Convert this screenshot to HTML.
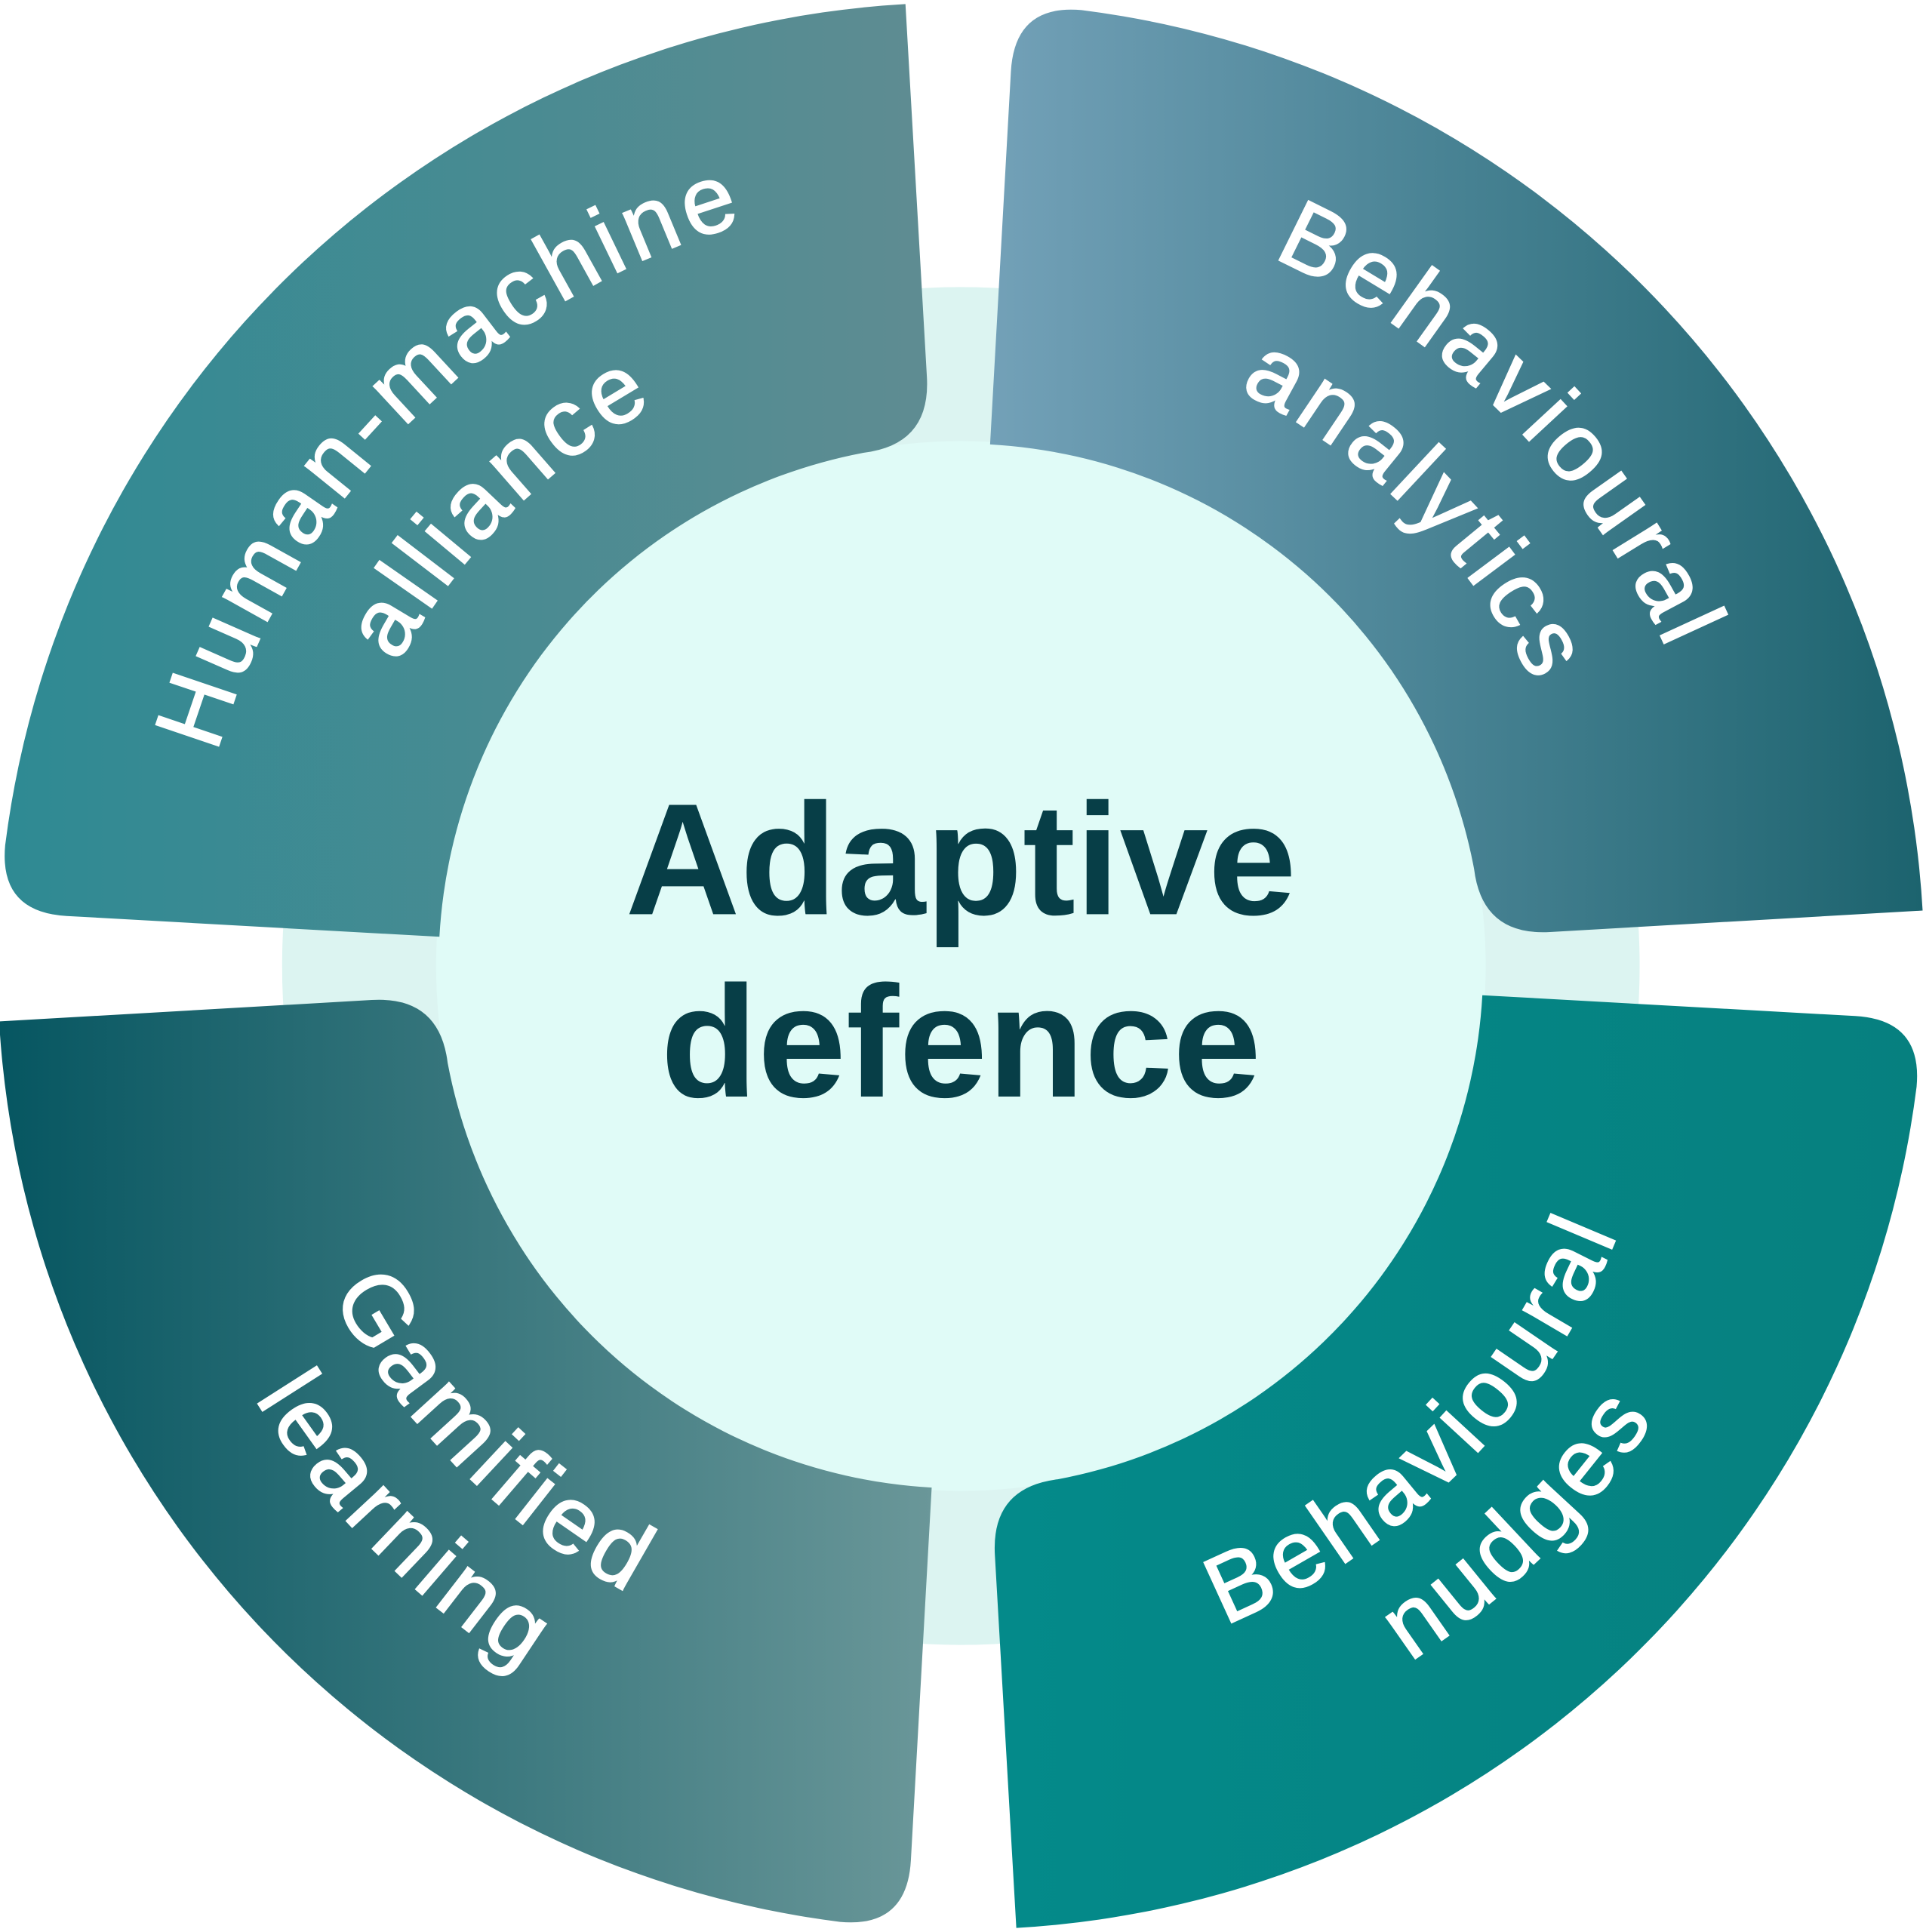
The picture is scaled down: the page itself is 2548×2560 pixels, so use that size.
<!DOCTYPE html>
<html><head><meta charset="utf-8"><style>
html,body{margin:0;padding:0;background:#fff;}
svg{display:block;}
.lbl{font-family:"Liberation Sans",sans-serif;font-size:78px;fill:#fff;stroke:#fff;stroke-width:1.2px;letter-spacing:5px;}
.ctr{font-family:"Liberation Sans",sans-serif;font-weight:bold;font-size:129px;fill:#073e47;}
</style></head><body>
<svg width="2548" height="2560" viewBox="0 0 1561 1568" preserveAspectRatio="none" xmlns="http://www.w3.org/2000/svg">
<defs>
<linearGradient id="gTL" gradientUnits="userSpaceOnUse" x1="0" y1="0" x2="755" y2="0"><stop offset="0" stop-color="#2e8a93"/><stop offset="1" stop-color="#5f8c92"/></linearGradient>
<linearGradient id="gTR" gradientUnits="userSpaceOnUse" x1="803" y1="0" x2="1561" y2="0"><stop offset="0" stop-color="#73a1b8"/><stop offset="1" stop-color="#1c636e"/></linearGradient>
<linearGradient id="gBR" gradientUnits="userSpaceOnUse" x1="804" y1="0" x2="1561" y2="0"><stop offset="0" stop-color="#048a8a"/><stop offset="1" stop-color="#06807f"/></linearGradient>
<linearGradient id="gBL" gradientUnits="userSpaceOnUse" x1="0" y1="0" x2="757" y2="0"><stop offset="0" stop-color="#065661"/><stop offset="1" stop-color="#6a9799"/></linearGradient>
<path id="t1" d="M335.9,1228.1 A628 628 0 0 1 1224.1,339.9"/>
<path id="t2" d="M408.1,1155.9 A526 526 0 0 1 1151.9,412.1"/>
<path id="r1" d="M335.9,339.9 A628 628 0 0 1 1224.1,1228.1"/>
<path id="r2" d="M408.1,412.1 A526 526 0 0 1 1151.9,1155.9"/>
<path id="b1" d="M372.7,1191.3 A576 576 0 0 0 1187.3,376.7"/>
<path id="b2" d="M299.9,1264.1 A679 679 0 0 0 1260.1,303.9"/>
<path id="l1" d="M372.7,376.7 A576 576 0 0 0 1187.3,1191.3"/>
<path id="l2" d="M299.9,303.9 A679 679 0 0 0 1260.1,1264.1"/>
</defs>
<circle cx="780" cy="784" r="551" fill="#dcf4f1"/>
<circle cx="780" cy="784" r="426" fill="#e0fbf7"/>
<path fill="url(#gTL)" d="M735,3.3 A782,782 0 0 0 4.2,686 Q-0.8,740.3 54.1,743.4 L356.7,760.3 A424,424 0 0 1 701.3,367.4 Q755.6,360.7 752.4,305.8 Z"/>
<path fill="url(#gTR)" d="M1560.7,739 A782,782 0 0 0 878,8.2 Q823.7,3.2 820.6,58.1 L803.7,360.7 A424,424 0 0 1 1196.6,705.3 Q1203.3,759.6 1258.2,756.4 Z"/>
<path fill="url(#gBR)" d="M825,1564.7 A782,782 0 0 0 1555.8,882 Q1560.8,827.7 1505.9,824.6 L1203.3,807.7 A424,424 0 0 1 858.7,1200.6 Q804.4,1207.3 807.6,1262.2 Z"/>
<path fill="url(#gBL)" d="M-0.7,829 A782,782 0 0 0 682,1559.8 Q736.3,1564.8 739.4,1509.9 L756.3,1207.3 A424,424 0 0 1 363.4,862.7 Q356.7,808.4 301.8,811.6 Z"/>
<text class="lbl" text-anchor="middle"><textPath href="#t1" startOffset="50%">Human-machine</textPath></text>
<text class="lbl" text-anchor="middle"><textPath href="#t2" startOffset="50%">alliance</textPath></text>
<text class="lbl" text-anchor="middle"><textPath href="#r1" startOffset="50%">Behavioural</textPath></text>
<text class="lbl" text-anchor="middle"><textPath href="#r2" startOffset="50%">analytics</textPath></text>
<text class="lbl" text-anchor="middle"><textPath href="#b1" startOffset="50%">Behavioural</textPath></text>
<text class="lbl" text-anchor="middle"><textPath href="#b2" startOffset="50%">nudges</textPath></text>
<text class="lbl" text-anchor="middle"><textPath href="#l1" startOffset="50%">Gamified</textPath></text>
<text class="lbl" text-anchor="middle"><textPath href="#l2" startOffset="50%">learning</textPath></text>
<text class="ctr" x="780" y="742" text-anchor="middle">Adaptive</text>
<text class="ctr" x="780" y="890" text-anchor="middle">defence</text>
</svg>
</body></html>
